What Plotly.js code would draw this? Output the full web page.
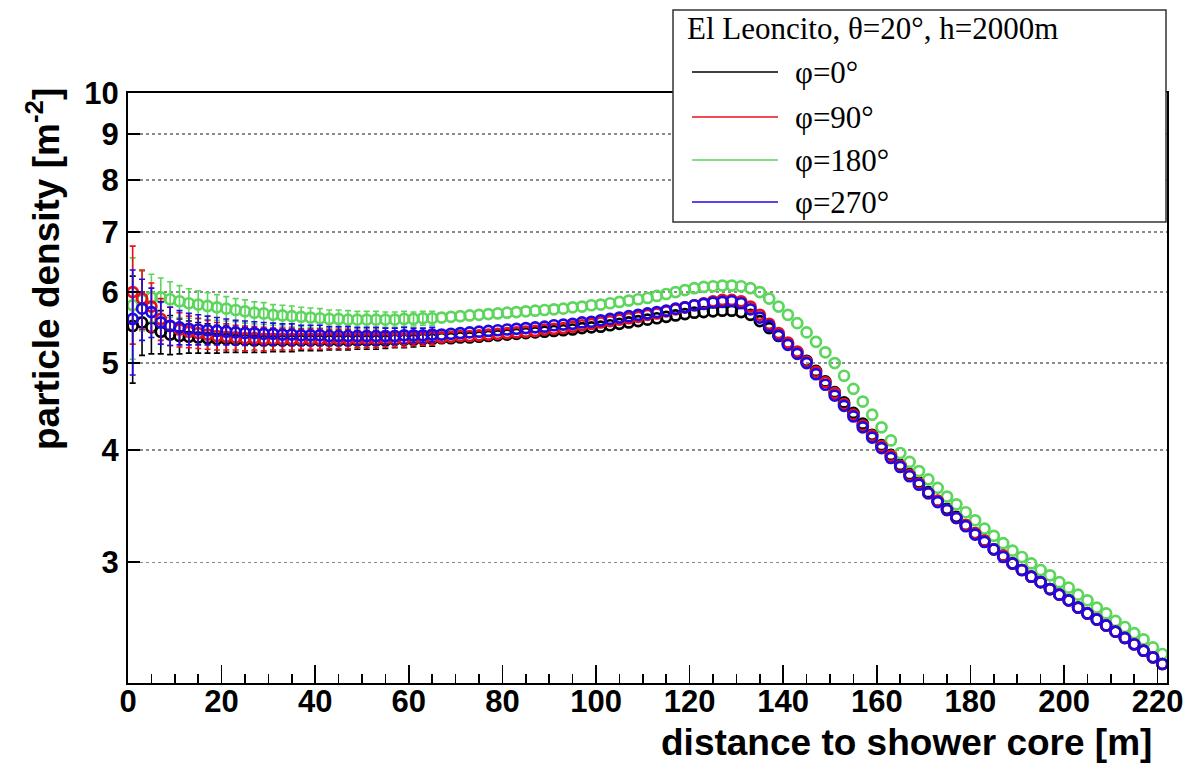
<!DOCTYPE html>
<html>
<head>
<meta charset="utf-8">
<script src="https://cdn.plot.ly/plotly-3.0.1.min.js"></script>
<style>html,body{margin:0;padding:0;background:#fff;}#chart{width:1195px;height:778px;}</style>
</head>
<body>
<div id="chart"></div>
<script>
// ---------------- DATA ----------------
const distance = [1,3,5,7,9,11,13,15,17,19,21,23,25,27,29,31,33,35,37,39,41,43,45,47,49,51,53,55,57,59,61,63,65,67,69,71,73,75,77,79,81,83,85,87,89,91,93,95,97,99,101,103,105,107,109,111,113,115,117,119,121,123,125,127,129,131,133,135,137,139,141,143,145,147,149,151,153,155,157,159,161,163,165,167,169,171,173,175,177,179,181,183,185,187,189,191,193,195,197,199,201,203,205,207,209,211,213,215,217,219,221];

const phi0 = [5.50,5.55,5.48,5.42,5.38,5.36,5.35,5.34,5.33,5.32,
5.32,5.31,5.31,5.30,5.30,5.30,5.30,5.30,5.30,5.30,
5.30,5.30,5.30,5.30,5.30,5.30,5.30,5.30,5.31,5.31,
5.31,5.32,5.32,5.33,5.33,5.34,5.34,5.35,5.36,5.37,
5.38,5.39,5.40,5.41,5.42,5.43,5.44,5.45,5.47,5.48,
5.49,5.51,5.53,5.55,5.57,5.59,5.61,5.63,5.65,5.67,
5.69,5.70,5.71,5.72,5.72,5.70,5.66,5.57,5.47,5.36,
5.25,5.14,5.03,4.90,4.77,4.64,4.52,4.40,4.28,4.16,
4.05,3.95,3.85,3.76,3.68,3.59,3.51,3.44,3.37,3.30,
3.23,3.17,3.10,3.05,2.99,2.94,2.89,2.85,2.80,2.76,
2.72,2.67,2.63,2.59,2.55,2.51,2.47,2.43,2.39,2.35,
2.31];

const phi90 = [6.00,5.90,5.78,5.60,5.50,5.45,5.42,5.40,5.38,5.36,
5.35,5.34,5.33,5.33,5.32,5.32,5.32,5.32,5.32,5.32,
5.32,5.32,5.32,5.32,5.32,5.32,5.32,5.32,5.32,5.32,
5.33,5.33,5.34,5.34,5.35,5.36,5.36,5.37,5.38,5.39,
5.40,5.41,5.42,5.43,5.45,5.46,5.47,5.49,5.51,5.53,
5.55,5.57,5.59,5.61,5.63,5.66,5.68,5.71,5.74,5.77,
5.80,5.83,5.86,5.88,5.88,5.86,5.78,5.66,5.53,5.40,
5.27,5.15,5.02,4.89,4.76,4.63,4.50,4.38,4.26,4.15,
4.04,3.94,3.84,3.75,3.67,3.58,3.51,3.43,3.36,3.30,
3.23,3.17,3.10,3.05,2.99,2.94,2.89,2.85,2.80,2.76,
2.72,2.67,2.63,2.59,2.55,2.51,2.47,2.43,2.39,2.35,
2.31];

const phi180 = [5.80,5.88,5.92,5.92,5.89,5.86,5.83,5.81,5.79,5.77,
5.75,5.73,5.71,5.69,5.68,5.66,5.65,5.64,5.63,5.62,
5.61,5.60,5.60,5.59,5.59,5.59,5.59,5.59,5.59,5.60,
5.60,5.61,5.61,5.62,5.63,5.64,5.65,5.66,5.67,5.68,
5.69,5.70,5.71,5.72,5.73,5.74,5.75,5.77,5.78,5.80,
5.81,5.83,5.85,5.87,5.89,5.91,5.94,5.97,6.00,6.03,
6.06,6.08,6.09,6.10,6.10,6.09,6.06,6.00,5.90,5.78,
5.66,5.54,5.41,5.28,5.14,5.00,4.84,4.68,4.53,4.38,
4.24,4.10,3.97,3.88,3.79,3.71,3.63,3.55,3.48,3.41,
3.34,3.27,3.21,3.15,3.09,3.04,2.99,2.94,2.90,2.85,
2.81,2.76,2.72,2.67,2.63,2.58,2.54,2.50,2.46,2.41,
2.37];

const phi270 = [5.60,5.75,5.70,5.55,5.50,5.48,5.46,5.45,5.44,5.43,
5.42,5.41,5.40,5.40,5.39,5.39,5.38,5.38,5.37,5.37,
5.37,5.36,5.36,5.36,5.36,5.36,5.36,5.36,5.36,5.37,
5.37,5.37,5.38,5.38,5.39,5.40,5.41,5.42,5.43,5.44,
5.45,5.46,5.47,5.48,5.49,5.51,5.52,5.53,5.55,5.56,
5.58,5.60,5.62,5.64,5.66,5.68,5.70,5.72,5.75,5.77,
5.80,5.82,5.84,5.85,5.86,5.83,5.74,5.62,5.50,5.37,
5.24,5.12,5.00,4.86,4.73,4.60,4.48,4.36,4.24,4.13,
4.02,3.92,3.83,3.74,3.66,3.58,3.50,3.43,3.36,3.29,
3.22,3.16,3.10,3.04,2.99,2.94,2.89,2.85,2.80,2.76,
2.72,2.67,2.63,2.59,2.55,2.51,2.47,2.43,2.39,2.35,
2.31];

// statistical errors of the first points (x <= 65 m); farther points have bars hidden by markers
const statErr = [0.75,0.45,0.36,0.30,0.27,0.24,0.22,0.21,0.20,0.19,
0.18,0.17,0.17,0.16,0.16,0.15,0.15,0.15,0.14,0.14,
0.14,0.13,0.13,0.13,0.12,0.12,0.12,0.11,0.11,0.11,
0.10,0.10,0.10];

const seriesNames = ['φ=0°', 'φ=90°', 'φ=180°', 'φ=270°'];
const seriesValues = [phi0, phi90, phi180, phi270];
const seriesColors = ['#000000', '#e8101a', '#5cd65c', '#2208e0'];
const drawOrder = [0, 2, 1, 3];
const legendHeader = 'El Leoncito, θ=20°, h=2000m';
const yTickVals = [3, 4, 5, 6, 7, 8, 9, 10];
const yTickText = ['3', '4', '5', '6', '7', '8', '9', '10'];
const xTitle = 'distance to shower core [m]';
const yTitle = 'particle density [m<sup>-2</sup>]';

// ---------------- LAYOUT HELPERS ----------------
const W = 1195, H = 778;
const L = 128, R = 1167, T = 93, B = 683;
const px2x = p => (p - L) / (R - L);
const px2y = p => (B - p) / (B - T);

const traces = drawOrder.map(i => ({
  type: 'scatter',
  mode: 'markers',
  x: distance,
  y: seriesValues[i],
  name: seriesNames[i],
  showlegend: false,
  marker: { symbol: 'circle-open', size: 10, color: seriesColors[i], line: { width: 2.7, color: seriesColors[i] } },
  error_y: { type: 'data', array: statErr, visible: true, color: seriesColors[i], thickness: 1.6, width: 3 }
}));

const tickFont = { family: 'Liberation Sans, Arial, sans-serif', size: 31, color: '#000', weight: 'bold' };
const titleFont = { family: 'Liberation Sans, Arial, sans-serif', size: 37, color: '#000', weight: 'bold' };
const legendFont = { family: 'Liberation Serif, Times New Roman, serif', size: 31, color: '#000' };

const shapes = [
  { type: 'rect', xref: 'paper', yref: 'paper', layer: 'above',
    x0: px2x(673), x1: px2x(1166), y0: px2y(222), y1: px2y(10),
    fillcolor: '#ffffff', line: { color: '#333333', width: 1.5 } }
];
const legendRows = [72, 117, 160, 202];
const annotations = [
  { xref: 'paper', yref: 'paper', x: px2x(1154), y: px2y(742), xanchor: 'right', yanchor: 'middle',
    text: xTitle, showarrow: false, font: titleFont },
  { xref: 'paper', yref: 'paper', x: px2x(43), y: px2y(86), xanchor: 'center', yanchor: 'top',
    text: yTitle, textangle: -90, showarrow: false, font: titleFont },
  { xref: 'paper', yref: 'paper', x: px2x(685), y: px2y(29), xanchor: 'left', yanchor: 'middle',
    text: legendHeader, showarrow: false, font: legendFont }
];
seriesNames.forEach((nm, i) => {
  shapes.push({ type: 'line', xref: 'paper', yref: 'paper', layer: 'above',
    x0: px2x(692), x1: px2x(778), y0: px2y(legendRows[i]), y1: px2y(legendRows[i]),
    line: { color: seriesColors[i], width: 1.5 } });
  annotations.push({ xref: 'paper', yref: 'paper', x: px2x(793), y: px2y(legendRows[i]),
    xanchor: 'left', yanchor: 'middle', text: nm, showarrow: false, font: legendFont });
});

const layout = {
  width: W, height: H,
  margin: { l: L, r: W - R, t: T, b: H - B, pad: 0 },
  paper_bgcolor: '#ffffff', plot_bgcolor: '#ffffff',
  showlegend: false,
  xaxis: {
    range: [0, 222], tick0: 0, dtick: 20,
    ticks: 'inside', ticklen: 18, tickwidth: 1.5, tickcolor: '#000',
    minor: { dtick: 5, tick0: 0, ticks: 'inside', ticklen: 9, tickwidth: 1.5, tickcolor: '#000', showgrid: false },
    showline: true, linecolor: '#000', linewidth: 2, mirror: true,
    showgrid: false, zeroline: false,
    tickfont: tickFont, ticklabelstandoff: -10
  },
  yaxis: {
    type: 'log', range: [Math.log10(2.2), 1],
    tickmode: 'array', tickvals: yTickVals, ticktext: yTickText,
    ticks: 'inside', ticklen: 12, tickwidth: 1.5, tickcolor: '#000',
    showline: true, linecolor: '#000', linewidth: 2, mirror: true,
    showgrid: true, gridcolor: '#8a8a8a', griddash: 'dot', gridwidth: 1.2,
    zeroline: false,
    tickfont: tickFont, ticklabelstandoff: 1
  },
  shapes: shapes,
  annotations: annotations
};

Plotly.newPlot('chart', traces, layout, { displayModeBar: false, staticPlot: true });
</script>
</body>
</html>
